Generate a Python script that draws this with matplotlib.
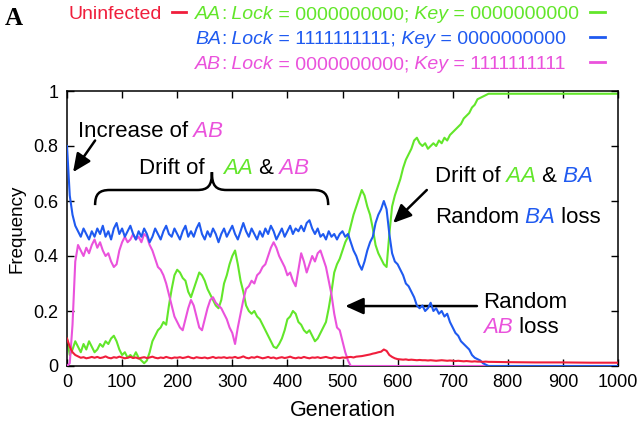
import matplotlib
matplotlib.use('Agg')
import matplotlib.pyplot as plt
from matplotlib.path import Path
from matplotlib.patches import PathPatch
from matplotlib.lines import Line2D
from matplotlib.transforms import IdentityTransform

plt.rcParams['font.family'] = ['Liberation Sans', 'DejaVu Sans']

RED = '#f01e3c'
GREEN = '#62e62a'
BLUE = '#1f5af0'
MAGENTA = '#ea52dc'

generation = list(range(0, 775, 5)) + [800, 850, 900, 950, 1000]

freq_BA = [
    0.80, 0.62, 0.55, 0.51, 0.49, 0.47, 0.50, 0.48, 0.46, 0.49,
    0.47, 0.50, 0.48, 0.51, 0.47, 0.49, 0.46, 0.50, 0.52, 0.48,
    0.50, 0.47, 0.49, 0.51, 0.48, 0.46, 0.49, 0.47, 0.50, 0.48,
    0.45, 0.47, 0.50, 0.48, 0.46, 0.49, 0.51, 0.48, 0.47, 0.50,
    0.48, 0.46, 0.49, 0.51, 0.47, 0.49, 0.47, 0.50, 0.52, 0.48,
    0.46, 0.49, 0.47, 0.50, 0.48, 0.45, 0.48, 0.50, 0.47, 0.49,
    0.51, 0.48, 0.46, 0.49, 0.52, 0.49, 0.47, 0.50, 0.48, 0.46,
    0.49, 0.47, 0.50, 0.48, 0.51, 0.49, 0.46, 0.48, 0.50, 0.47,
    0.49, 0.51, 0.48, 0.50, 0.49, 0.51, 0.49, 0.52, 0.53, 0.50,
    0.48, 0.50, 0.47, 0.48, 0.46, 0.49, 0.47, 0.48, 0.46, 0.48,
    0.49, 0.47, 0.48, 0.45, 0.42, 0.40, 0.37, 0.35, 0.38, 0.42,
    0.45, 0.47, 0.52, 0.55, 0.57, 0.60, 0.57, 0.48, 0.41, 0.38,
    0.37, 0.35, 0.33, 0.30, 0.29, 0.27, 0.25, 0.22, 0.21, 0.22,
    0.20, 0.21, 0.23, 0.20, 0.21, 0.19, 0.20, 0.18, 0.19, 0.16,
    0.14, 0.12, 0.11, 0.09, 0.08, 0.07, 0.06, 0.04, 0.03, 0.025,
    0.02, 0.01, 0.005, 0.0, 0.0,
    0.0, 0.0, 0.0, 0.0, 0.0,
]

freq_AA = [
    0.10, 0.04, 0.06, 0.09, 0.07, 0.05, 0.08, 0.06, 0.09, 0.07,
    0.05, 0.06, 0.08, 0.07, 0.09, 0.08, 0.10, 0.11, 0.09, 0.06,
    0.04, 0.05, 0.03, 0.04, 0.03, 0.05, 0.03, 0.02, 0.01, 0.02,
    0.05, 0.09, 0.11, 0.13, 0.14, 0.16, 0.15, 0.22, 0.28, 0.33,
    0.35, 0.34, 0.32, 0.31, 0.27, 0.25, 0.28, 0.31, 0.34, 0.33,
    0.31, 0.28, 0.26, 0.24, 0.22, 0.21, 0.24, 0.30, 0.33, 0.37,
    0.40, 0.42, 0.37, 0.31, 0.27, 0.22, 0.20, 0.19, 0.20, 0.18,
    0.17, 0.15, 0.13, 0.11, 0.09, 0.07, 0.065, 0.08, 0.10, 0.13,
    0.17, 0.18, 0.20, 0.19, 0.16, 0.15, 0.13, 0.12, 0.13, 0.11,
    0.09, 0.10, 0.12, 0.14, 0.16, 0.21, 0.27, 0.34, 0.37, 0.39,
    0.42, 0.45, 0.47, 0.51, 0.55, 0.58, 0.61, 0.64, 0.62, 0.58,
    0.55, 0.50, 0.44, 0.41, 0.39, 0.37, 0.36, 0.48, 0.58, 0.62,
    0.65, 0.68, 0.72, 0.75, 0.77, 0.79, 0.82, 0.83, 0.81, 0.80,
    0.81, 0.79, 0.80, 0.81, 0.80, 0.82, 0.81, 0.83, 0.82, 0.84,
    0.85, 0.86, 0.87, 0.88, 0.90, 0.91, 0.92, 0.94, 0.95, 0.97,
    0.975, 0.98, 0.985, 0.99, 0.99,
    0.99, 0.99, 0.99, 0.99, 0.99,
]

freq_AB = [
    0.0, 0.01, 0.15, 0.38, 0.44, 0.42, 0.40, 0.43, 0.41, 0.44,
    0.46, 0.43, 0.45, 0.42, 0.40, 0.41, 0.38, 0.36, 0.37, 0.42,
    0.45, 0.47, 0.45, 0.46, 0.48, 0.46, 0.47, 0.45, 0.48, 0.47,
    0.44, 0.42, 0.39, 0.36, 0.35, 0.33, 0.30, 0.26, 0.22, 0.18,
    0.16, 0.14, 0.13, 0.17, 0.21, 0.24, 0.22, 0.18, 0.14, 0.13,
    0.17, 0.21, 0.24, 0.25, 0.23, 0.22, 0.21, 0.19, 0.17, 0.14,
    0.12, 0.08, 0.14, 0.19, 0.24, 0.28, 0.29, 0.31, 0.30, 0.33,
    0.34, 0.36, 0.37, 0.40, 0.43, 0.45, 0.43, 0.40, 0.38, 0.36,
    0.33, 0.34, 0.31, 0.29, 0.35, 0.41, 0.38, 0.34, 0.37, 0.40,
    0.38, 0.41, 0.42, 0.39, 0.36, 0.31, 0.26, 0.19, 0.14, 0.13,
    0.09, 0.05, 0.02, 0.0, 0.0, 0.0, 0.0, 0.0, 0.0, 0.0,
    0.0, 0.0, 0.0, 0.0, 0.0, 0.0, 0.0, 0.0, 0.0, 0.0,
    0.0, 0.0, 0.0, 0.0, 0.0, 0.0, 0.0, 0.0, 0.0, 0.0,
    0.0, 0.0, 0.0, 0.0, 0.0, 0.0, 0.0, 0.0, 0.0, 0.0,
    0.0, 0.0, 0.0, 0.0, 0.0, 0.0, 0.0, 0.0, 0.0, 0.0,
    0.0, 0.0, 0.0, 0.0, 0.0,
    0.0, 0.0, 0.0, 0.0, 0.0,
]

freq_uninfected = [
    0.10, 0.07, 0.05, 0.04, 0.035, 0.03, 0.032, 0.028, 0.03, 0.033,
    0.03, 0.033, 0.029, 0.031, 0.035, 0.03, 0.028, 0.032, 0.03, 0.034,
    0.031, 0.028, 0.03, 0.033, 0.029, 0.031, 0.027, 0.03, 0.032, 0.029,
    0.031, 0.034, 0.03, 0.028, 0.031, 0.029, 0.033, 0.03, 0.028, 0.031,
    0.03, 0.032, 0.029, 0.031, 0.034, 0.03, 0.028, 0.032, 0.03, 0.029,
    0.031, 0.028, 0.03, 0.033, 0.029, 0.031, 0.03, 0.032, 0.029, 0.031,
    0.03, 0.033, 0.029, 0.031, 0.035, 0.03, 0.028, 0.032, 0.03, 0.034,
    0.031, 0.028, 0.03, 0.033, 0.029, 0.031, 0.027, 0.03, 0.032, 0.029,
    0.031, 0.034, 0.03, 0.028, 0.031, 0.029, 0.033, 0.03, 0.028, 0.031,
    0.03, 0.032, 0.029, 0.031, 0.033, 0.03, 0.028, 0.032, 0.03, 0.029,
    0.031, 0.03, 0.032, 0.033, 0.031, 0.034, 0.035, 0.036, 0.038, 0.04,
    0.042, 0.045, 0.047, 0.05, 0.052, 0.06, 0.055, 0.04, 0.033, 0.028,
    0.025, 0.024, 0.023, 0.024, 0.022, 0.023, 0.022, 0.021, 0.022, 0.021,
    0.021, 0.02, 0.021, 0.02, 0.019, 0.02, 0.021, 0.02, 0.019, 0.02,
    0.019, 0.018, 0.019, 0.018, 0.017, 0.018, 0.017, 0.016, 0.017, 0.016,
    0.016, 0.015, 0.016, 0.015, 0.015,
    0.014, 0.013, 0.013, 0.012, 0.012,
]

x_ticks = list(range(0, 1001, 100))
y_ticks = [0, 0.2, 0.4, 0.6, 0.8, 1.0]
y_tick_labels = ['0', '0.2', '0.4', '0.6', '0.8', '1']

W, H = 640, 421
fig = plt.figure(figsize=(W / 100, H / 100), dpi=100)
ax = fig.add_axes([67 / W, 55 / H, 551 / W, 275 / H])

LW = 1.5
ax.plot(generation, freq_AA, color=GREEN, lw=LW, zorder=2)
ax.plot(generation, freq_AB, color=MAGENTA, lw=LW, zorder=3)
ax.plot(generation, freq_BA, color=BLUE, lw=LW, zorder=4)
ax.plot(generation, freq_uninfected, color=RED, lw=LW, zorder=5)

ax.set_xlim(0, 1000)
ax.set_ylim(0, 1)
ax.set_xticks(x_ticks)
ax.set_yticks(y_ticks)
ax.set_yticklabels(y_tick_labels)
ax.tick_params(direction='in', top=True, right=True, length=5, width=1,
               labelsize=13, pad=6)
for s in ax.spines.values():
    s.set_linewidth(1.1)
ax.set_xlabel('Generation', fontsize=15.5, labelpad=6)
ax.set_ylabel('Frequency', fontsize=13.5, labelpad=6)

fig.canvas.draw()
renderer = fig.canvas.get_renderer()


def chain(xd, yd, parts, size):
    """Draw consecutive text pieces starting at display point (xd, yd)."""
    x = xd
    for s, color, style in parts:
        t = fig.text(x, yd, s, transform=IdentityTransform(), color=color,
                     fontsize=size, fontstyle=style, ha='left', va='baseline')
        bb = t.get_window_extent(renderer)
        x += bb.width
    return x


def data_chain(gx, fy, parts, size):
    xd, yd = ax.transData.transform((gx, fy))
    chain(xd, yd, parts, size)


N, I = 'normal', 'italic'
K = 'black'


def top(y):
    return H - y


LEG = 14
rows = [
    (19, GREEN, 'AA', ' = 0000000000;', ' = 0000000000'),
    (44, BLUE, 'BA', ' = 1111111111;', ' = 0000000000'),
    (69, MAGENTA, 'AB', ' = 0000000000;', ' = 1111111111'),
]
for yb, col, name, lockv, keyv in rows:
    chain(195, top(yb), [(name, col, I), (':', col, N), (' Lock', col, I),
                         (lockv, col, N), (' Key', col, I), (keyv, col, N)], LEG)
    fig.add_artist(Line2D([590 / W, 605 / W], [(H - yb + 7) / H] * 2,
                          color=col, lw=2))
fig.text(162 / W, (H - 19) / H, 'Uninfected', color=RED, fontsize=LEG,
         ha='right', va='baseline')
fig.add_artist(Line2D([172 / W, 186 / W], [(H - 19 + 7) / H] * 2,
                      color=RED, lw=2))

fig.text(5 / W, (H - 25) / H, 'A', fontfamily='Liberation Serif',
         fontweight='bold', fontsize=18, va='baseline')

ANN = 16
data_chain(20, 0.833, [('Increase of', K, N), (' AB', MAGENTA, I)], ANN)
data_chain(131, 0.698, [('Drift of', K, N)], ANN)
data_chain(283, 0.698, [('AA', GREEN, I), (' &', K, N), (' AB', MAGENTA, I)], ANN)
data_chain(668, 0.669, [('Drift of', K, N), (' AA', GREEN, I), (' &', K, N),
                        (' BA', BLUE, I)], ANN)
data_chain(668, 0.52, [('Random', K, N), (' BA', BLUE, I), (' loss', K, N)], ANN)
data_chain(755, 0.211, [('Random', K, N)], ANN)
data_chain(755, 0.12, [('AB', MAGENTA, I), (' loss', K, N)], ANN)

arrow_kw = dict(arrowstyle='-|>,head_length=0.55,head_width=0.25',
                color='black', lw=1.8, shrinkA=0, shrinkB=0,
                mutation_scale=20)
ax.annotate('', xy=(11, 0.705), xytext=(51, 0.82), arrowprops=arrow_kw,
            annotation_clip=False)
ax.annotate('', xy=(592, 0.52), xytext=(653, 0.64), arrowprops=arrow_kw)
ax.annotate('', xy=(505, 0.218), xytext=(744, 0.218), arrowprops=arrow_kw)

verts = [
    (51, 0.585),
    (51, 0.625), (58, 0.64), (78, 0.64),
    (236, 0.64),
    (256, 0.64), (263, 0.655), (263, 0.705),
    (263, 0.655), (270, 0.64), (290, 0.64),
    (447, 0.64),
    (467, 0.64), (474, 0.625), (474, 0.585),
]
codes = [Path.MOVETO,
         Path.CURVE4, Path.CURVE4, Path.CURVE4,
         Path.LINETO,
         Path.CURVE4, Path.CURVE4, Path.CURVE4,
         Path.CURVE4, Path.CURVE4, Path.CURVE4,
         Path.LINETO,
         Path.CURVE4, Path.CURVE4, Path.CURVE4]
ax.add_patch(PathPatch(Path(verts, codes), fill=False, lw=1.8,
                       edgecolor='black', zorder=6))

fig.savefig('out.png', dpi=100)
